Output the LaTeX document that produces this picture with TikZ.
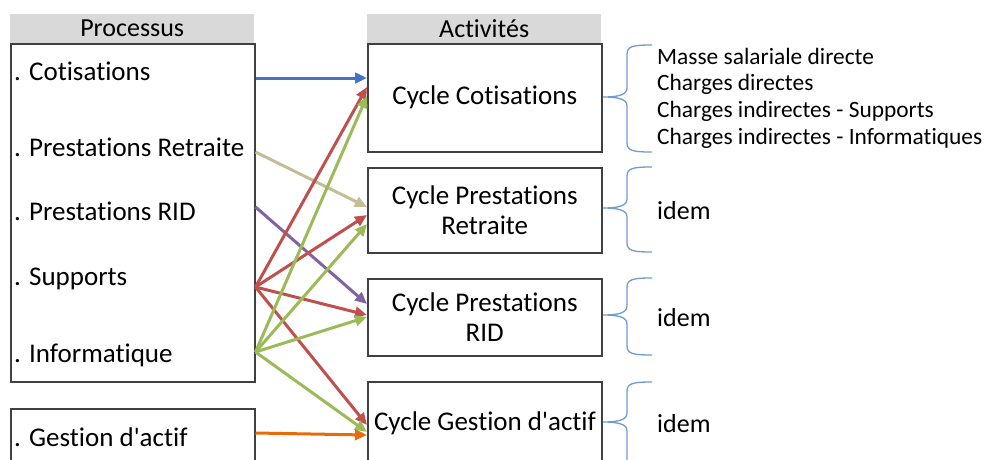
\documentclass[tikz,border=0pt]{standalone}
\usepackage{fontspec}
\setmainfont{Carlito}[Ligatures={TeXOff,NoCommon,NoRare,NoContextual},RawFeature={-liga;-clig;-dlig;-calt}]
\usetikzlibrary{arrows.meta}

\definecolor{bordergray}{HTML}{404040}
\definecolor{headgray}{HTML}{D9D9D9}
\definecolor{flecheblue}{HTML}{4472C4}
\definecolor{flechered}{HTML}{C0504D}
\definecolor{flechegreen}{HTML}{9BBB59}
\definecolor{flechetan}{HTML}{C4BD97}
\definecolor{flechepurple}{HTML}{8064A2}
\definecolor{flecheorange}{HTML}{E46C0A}
\definecolor{accoladeblue}{HTML}{6F9BD1}

\tikzset{
  box/.style={draw=bordergray, line width=1.5pt, fill=white, inner sep=0pt, anchor=north west},
  head/.style={fill=headgray, inner sep=0pt, minimum width=234pt, minimum height=29pt,
    anchor=south west, font=\fontsize{26}{30}\selectfont},
  item/.style={inner sep=0pt, anchor=west, font=\fontsize{27}{30}\selectfont},
  cycle/.style={inner sep=0pt, align=center, font=\fontsize{27}{30}\selectfont},
  note/.style={inner sep=0pt, anchor=west, align=left, font=\fontsize{23.4}{26.7}\selectfont},
  fleche/.style={line width=3pt, -{Triangle[length=12pt,width=10.5pt]}},
  accolade/.style={draw=accoladeblue, line width=1.3pt}
}

% curly brace: top y, tip y, bottom y
\newcommand{\accolade}[3]{%
  \draw[accolade] (652,#1) .. controls (634,#1) and (627,#1+1) .. (627,#1+9) -- (627,#2-9)
    .. controls (627,#2-2) and (618,#2) .. (603,#2)
    .. controls (618,#2) and (627,#2+2) .. (627,#2+9) -- (627,#3-9)
    .. controls (627,#3-1) and (634,#3) .. (652,#3);}

\begin{document}
\begin{tikzpicture}[x=1pt, y=-1pt]
  \clip (0,0) rectangle (985,459);

  % processus
  \node[box, minimum width=244pt, minimum height=338pt] (procbox) at (10,43) {};
  \node[head, minimum width=244pt] (prochead) at (procbox.north west) {Processus};
  \node[box, minimum width=244pt, minimum height=70pt] (gesbox) at (10,408) {};

  \node[item] (cot) at (14,71) {. Cotisations};
  \node[item] (ret) at (14,147) {. Prestations Retraite};
  \node[item] (rid) at (14,211) {. Prestations RID};
  \node[item] (sup) at (14,279) {. Supports};
  \node[item] (inf) at (14,355) {. Informatique};
  \node[item] (ges) at (14,437) {. Gestion d'actif};

  % activites
  \node[box, minimum width=234pt, minimum height=108pt] (cyc1) at (367,43) {};
  \node[head] (acthead) at (cyc1.north west) {Activités};
  \node[box, minimum width=234pt, minimum height=85pt] (cyc2) at (367,167) {};
  \node[box, minimum width=234pt, minimum height=77pt] (cyc3) at (367,278) {};
  \node[box, minimum width=234pt, minimum height=90pt] (cyc4) at (367,381) {};

  \node[cycle] (cyc1txt) at (cyc1.center) {Cycle Cotisations};
  \node[cycle] (cyc2txt) at (cyc2.center) {Cycle Prestations\\Retraite};
  \node[cycle] (cyc3txt) at (cyc3.center) {Cycle Prestations\\RID};
  \node[cycle] (cyc4txt) at (485,423) {Cycle Gestion d'actif};

  % charges
  \accolade{45}{97}{152}
  \accolade{167}{208}{252}
  \accolade{278}{315}{355}
  \accolade{382}{422}{500}
  \node[note] (charges) at (657,98) {Masse salariale directe\\Charges directes\\Charges indirectes - Supports\\Charges indirectes - Informatiques};
  \node[note, font=\fontsize{26}{30}\selectfont] (idem2) at (657,211) {idem};
  \node[note, font=\fontsize{26}{30}\selectfont] (idem3) at (657,318) {idem};
  \node[note, font=\fontsize{26}{30}\selectfont] (idem4) at (657,424) {idem};

  % ports
  \coordinate (sCot) at (procbox.east |- 0,78);
  \coordinate (sRet) at (procbox.east |- 0,152);
  \coordinate (sRid) at (procbox.east |- 0,207);
  \coordinate (sSup) at (procbox.east |- 0,287);
  \coordinate (sInf) at (procbox.east |- 0,352);
  \coordinate (sGes) at (gesbox.east |- 0,433);
  \coordinate (t1a) at (cyc1.west |- 0,78);
  \coordinate (t1b) at (cyc1.west |- 0,87);
  \coordinate (t1c) at (cyc1.west |- 0,96);
  \coordinate (t2a) at (cyc2.west |- 0,207);
  \coordinate (t2b) at (cyc2.west |- 0,215);
  \coordinate (t2c) at (cyc2.west |- 0,224);
  \coordinate (t3a) at (cyc3.west |- 0,304);
  \coordinate (t3b) at (cyc3.west |- 0,315);
  \coordinate (t3c) at (cyc3.west |- 0,317);
  \coordinate (t4a) at (cyc4.west |- 0,425);
  \coordinate (t4b) at (cyc4.west |- 0,432);
  \coordinate (t4c) at (cyc4.west |- 0,435);

  % fleches
  \draw[fleche, flecheblue] (sCot) -- (t1a);
  \draw[fleche, flechetan] (sRet) -- (t2a);
  \draw[fleche, flechepurple] (sRid) -- (t3a);
  \draw[fleche, flechered] (sSup) -- (t1b);
  \draw[fleche, flechered] (sSup) -- (t2b);
  \draw[fleche, flechered] (sSup) -- (t3b);
  \draw[fleche, flechered] (sSup) -- (t4a);
  \draw[fleche, flechegreen] (sInf) -- (t1c);
  \draw[fleche, flechegreen] (sInf) -- (t2c);
  \draw[fleche, flechegreen] (sInf) -- (t3c);
  \draw[fleche, flechegreen] (sInf) -- (t4b);
  \draw[fleche, flecheorange] (sGes) -- (t4c);
\end{tikzpicture}
\end{document}
